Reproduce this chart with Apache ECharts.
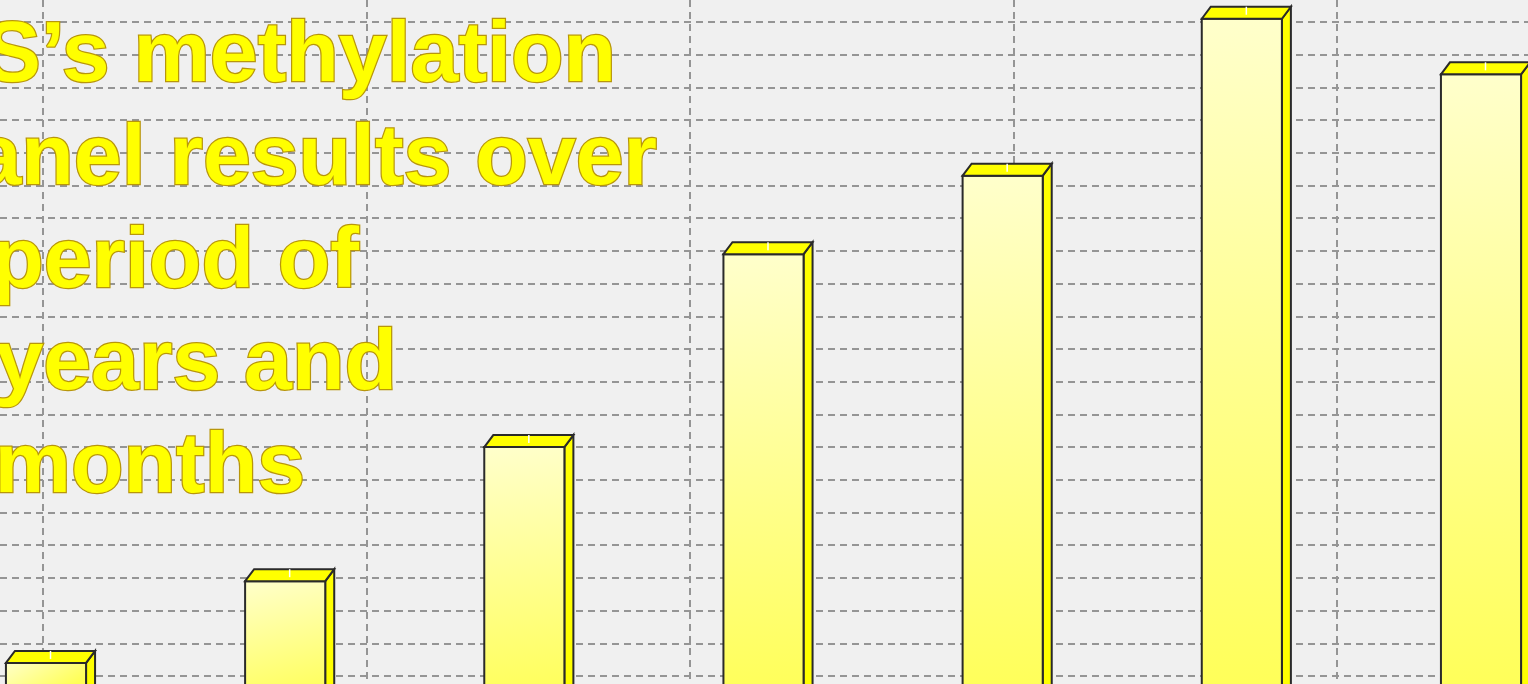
<!DOCTYPE html>
<html>
<head>
<meta charset="utf-8">
<script src="https://cdn.jsdelivr.net/npm/echarts@6/dist/echarts.min.js"></script>
<style>
  html, body { margin: 0; padding: 0; background: #f0f0f0; }
  #chart { width: 1528px; height: 684px; }
</style>
</head>
<body>
<div id="chart"></div>
<script>
// methylation panel results, one bar per test
var categories = ['Test 1', 'Test 2', 'Test 3', 'Test 4', 'Test 5', 'Test 6', 'Test 7'];
var values = [1.4, 3.9, 8.0, 13.9, 16.3, 21.1, 19.4];
var titleLines = ['S’s methylation', 'panel results over', 'period of', 'years and', 'months'];
// where each title line ends on the right, and its baseline
var titleRight = [616, 657, 359, 397, 305];
var titleBase = [87, 190, 293, 395, 498];

var myChart = echarts.init(document.getElementById('chart'));

function renderBar(params, api) {
  var top = api.coord([api.value(0), api.value(1)]);
  var base = api.coord([api.value(0), 0]);
  var w = api.size([1, 0])[0] * 0.335;
  var x0 = top[0] - w / 2;
  var x1 = top[0] + w / 2;
  var y0 = top[1];
  var yb = base[1];
  var dx = 9, dy = 12;
  var mid = top[0] + dx / 2;
  return {
    type: 'group',
    children: [
      {
        type: 'polygon',
        shape: { points: [[x1, y0], [x1 + dx, y0 - dy], [x1 + dx, yb - dy], [x1, yb]] },
        style: { fill: '#ffff00', stroke: '#2a2a2a', lineWidth: 2 }
      },
      {
        type: 'rect',
        shape: { x: x0, y: y0, width: w, height: yb - y0 },
        style: {
          fill: new echarts.graphic.LinearGradient(0, 0, 0.35, 1, [
            { offset: 0, color: '#ffffcc' },
            { offset: 1, color: '#ffff55' }
          ]),
          stroke: '#2a2a2a',
          lineWidth: 2
        }
      },
      {
        type: 'polygon',
        shape: { points: [[x0, y0], [x0 + dx, y0 - dy], [x1 + dx, y0 - dy], [x1, y0]] },
        style: { fill: '#ffff00', stroke: '#2a2a2a', lineWidth: 2 }
      },
      {
        type: 'line',
        shape: { x1: mid, y1: y0 - dy, x2: mid, y2: y0 - dy + 8 },
        style: { stroke: '#ffffff', lineWidth: 1.5 }
      }
    ]
  };
}

var titleGraphics = titleLines.map(function (t, i) {
  return {
    type: 'text',
    z: 100,
    x: titleRight[i],
    y: titleBase[i] - 30,
    style: {
      text: t,
      font: 'bold 86px "Liberation Sans", Arial, sans-serif',
      align: 'right',
      verticalAlign: 'middle',
      fill: '#ffff00',
      stroke: '#b8960b',
      lineWidth: 2.5,
      shadowColor: 'rgba(0, 0, 0, 0.4)',
      shadowBlur: 5,
      shadowOffsetX: 2,
      shadowOffsetY: 4
    }
  };
});

var gridLine = { show: true, lineStyle: { color: '#959595', width: 2, type: [7, 5] } };
var hidden = { axisLine: { show: false }, axisTick: { show: false }, axisLabel: { show: false } };

var option = {
  backgroundColor: '#f0f0f0',
  animation: false,
  grid: [
    // horizontal dashed lines, full width
    { left: 0, right: 0, top: 22, bottom: 8 },
    // vertical dashed lines
    { left: 43, right: 191, top: 0, bottom: 0 },
    // bars
    { left: 46, right: 47, top: 22, bottom: 8 }
  ],
  xAxis: [
    Object.assign({ type: 'value', gridIndex: 0, min: 0, max: 1, splitLine: { show: false } }, hidden),
    Object.assign({ type: 'value', gridIndex: 1, min: 0, max: 4, interval: 1, splitLine: gridLine }, hidden),
    Object.assign({ type: 'category', gridIndex: 2, data: categories, boundaryGap: false, splitLine: { show: false } }, hidden)
  ],
  yAxis: [
    Object.assign({ type: 'value', gridIndex: 0, min: 1, max: 21, interval: 1, splitLine: gridLine }, hidden),
    Object.assign({ type: 'value', gridIndex: 1, min: 0, max: 1, splitLine: { show: false } }, hidden),
    Object.assign({ type: 'value', gridIndex: 2, min: 1, max: 21, interval: 1, splitLine: { show: false } }, hidden)
  ],
  series: [
    {
      type: 'custom',
      xAxisIndex: 2,
      yAxisIndex: 2,
      renderItem: renderBar,
      clip: false,
      data: categories.map(function (c, i) { return [i, values[i]]; })
    }
  ],
  graphic: titleGraphics
};

myChart.setOption(option);
</script>
</body>
</html>
